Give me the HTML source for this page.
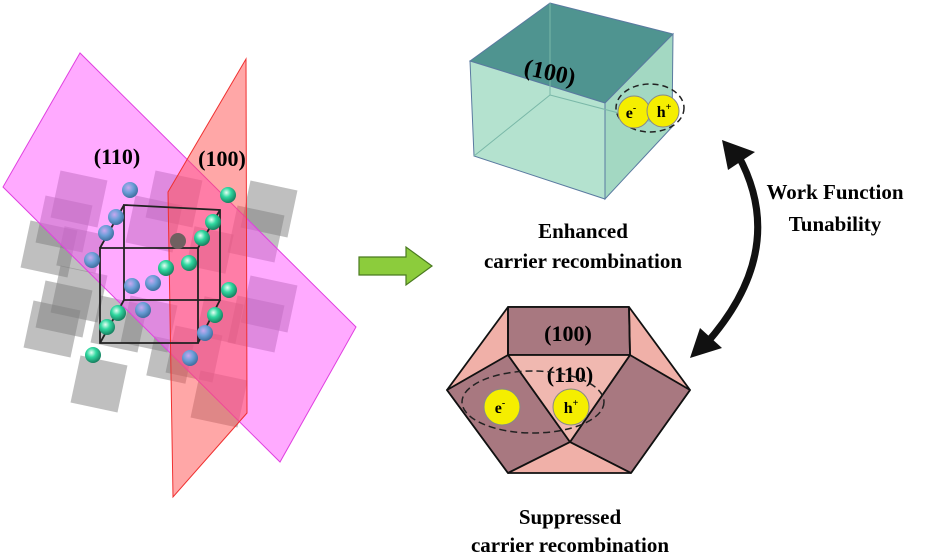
<!DOCTYPE html>
<html><head><meta charset="utf-8"><style>
body{margin:0;background:#fff}
svg text{font-family:"Liberation Serif",serif;font-weight:bold}
</style></head><body>
<svg width="933" height="554" viewBox="0 0 933 554" xmlns="http://www.w3.org/2000/svg">
<defs>
<radialGradient id="gb" cx="40%" cy="35%" r="65%"><stop offset="0" stop-color="#c9a8f0"/><stop offset="0.5" stop-color="#6b9ed8"/><stop offset="1" stop-color="#3f6f9f"/></radialGradient>
<radialGradient id="gg" cx="40%" cy="35%" r="65%"><stop offset="0" stop-color="#e6fff4"/><stop offset="0.45" stop-color="#30d8a0"/><stop offset="1" stop-color="#178060"/></radialGradient>
</defs>
<!-- gray squares -->
<g fill="#808080" fill-opacity="0.5">
<rect x="55" y="175" width="48" height="48" transform="rotate(12 79 199)"/>
<rect x="40" y="200" width="48" height="48" transform="rotate(12 64 224)"/>
<rect x="25" y="225" width="48" height="48" transform="rotate(12 49 249)"/>
<rect x="55" y="270" width="48" height="48" transform="rotate(12 79 294)"/>
<rect x="40" y="285" width="48" height="48" transform="rotate(12 64 309)"/>
<rect x="28" y="305" width="48" height="48" transform="rotate(12 52 329)"/>
<rect x="75" y="360" width="48" height="48" transform="rotate(12 99 384)"/>
<rect x="150" y="175" width="48" height="48" transform="rotate(12 174 199)"/>
<rect x="130" y="200" width="48" height="48" transform="rotate(12 154 224)"/>
<rect x="125" y="300" width="48" height="48" transform="rotate(12 149 324)"/>
<rect x="170" y="330" width="48" height="48" transform="rotate(12 194 354)"/>
<rect x="245" y="185" width="48" height="48" transform="rotate(12 269 209)"/>
<rect x="232" y="210" width="48" height="48" transform="rotate(12 256 234)"/>
<rect x="245" y="280" width="48" height="48" transform="rotate(12 269 304)"/>
<rect x="232" y="300" width="48" height="48" transform="rotate(12 256 324)"/>
<rect x="195" y="375" width="48" height="48" transform="rotate(12 219 399)"/>
<rect x="95" y="300" width="48" height="48" transform="rotate(12 119 324)"/>
<rect x="190" y="230" width="40" height="40" transform="rotate(12 210 250)"/>
<rect x="60" y="230" width="40" height="40" transform="rotate(12 80 250)"/>
<rect x="200" y="300" width="40" height="40" transform="rotate(12 220 320)"/>
<rect x="150" y="340" width="40" height="40" transform="rotate(12 170 360)"/>
</g>
<!-- planes -->
<polygon points="80,53 3,187 280,462 356,327" fill="#ff55ff" fill-opacity="0.5" stroke="#e040e0" stroke-width="1"/>
<polygon points="246,59 168,192 173,497 247,413" fill="#ff5050" fill-opacity="0.5" stroke="#f03030" stroke-width="1"/>
<!-- cell -->
<g stroke="#222" stroke-width="1.8" fill="none">
<polygon points="100,248 198,248 198,343 100,343"/>
<polygon points="124,205 220,210 220,300 124,300"/>
<line x1="100" y1="248" x2="124" y2="205"/><line x1="198" y1="248" x2="220" y2="210"/>
<line x1="198" y1="343" x2="220" y2="300"/><line x1="100" y1="343" x2="124" y2="300"/>
</g>
<g fill="url(#gb)">
<circle cx="130" cy="190" r="8"/><circle cx="116" cy="217" r="8"/><circle cx="106" cy="233" r="8"/><circle cx="92" cy="260" r="8"/><circle cx="132" cy="286" r="8"/><circle cx="153" cy="283" r="8"/><circle cx="143" cy="310" r="8"/><circle cx="190" cy="358" r="8"/><circle cx="205" cy="333" r="8"/>
</g>
<g fill="url(#gg)">
<circle cx="228" cy="195" r="8"/><circle cx="213" cy="222" r="8"/><circle cx="202" cy="238" r="8"/><circle cx="189" cy="263" r="8"/><circle cx="166" cy="268" r="8"/><circle cx="229" cy="290" r="8"/><circle cx="118" cy="313" r="8"/><circle cx="107" cy="327" r="8"/><circle cx="93" cy="355" r="8"/><circle cx="215" cy="315" r="8"/>
</g>
<circle cx="178" cy="241" r="8" fill="#706060"/>
<text x="117" y="164" font-size="22" text-anchor="middle">(110)</text>
<text x="222" y="166" font-size="22" text-anchor="middle">(100)</text>
<!-- green arrow -->
<polygon points="359,257 406,257 406,247 432,266 406,285 406,275 359,275" fill="#8ccc3c" stroke="#4a7a20" stroke-width="1.2"/>
<!-- cube -->
<polygon points="470,61 550,3 673,34 605,103" fill="#4f9490" stroke="#5a7aa0"/>
<polygon points="470,61 605,103 605,199 474,156" fill="#b4e2cf" stroke="#5a7aa0"/>
<polygon points="605,103 673,34 672,127 605,199" fill="#a3d8c2" stroke="#5a7aa0"/>
<g stroke="#7ab8a8" stroke-width="1" fill="none"><polyline points="550,3 550,95 474,156"/><line x1="550" y1="95" x2="672" y2="127"/></g>
<text x="550" y="80" font-size="24" text-anchor="middle" transform="rotate(12 550 72)">(100)</text>
<ellipse cx="650" cy="108" rx="34" ry="24" fill="none" stroke="#222" stroke-width="1.5" stroke-dasharray="6,4"/>
<circle cx="634" cy="112" r="16" fill="#f5ee00" stroke="#888"/>
<circle cx="663" cy="111" r="16" fill="#f5ee00" stroke="#888"/>
<text x="631" y="118" font-size="16" text-anchor="middle">e<tspan font-size="10" dy="-7">-</tspan></text>
<text x="664" y="117" font-size="16" text-anchor="middle">h<tspan font-size="10" dy="-7">+</tspan></text>
<text x="583" y="238" font-size="21" text-anchor="middle">Enhanced</text>
<text x="583" y="268" font-size="21" text-anchor="middle">carrier recombination</text>
<!-- curved arrow -->
<path d="M738,155 Q790,250 705,345" fill="none" stroke="#111" stroke-width="7"/>
<polygon points="722,140 755,152 728,170" fill="#111"/>
<polygon points="690,358 700,328 722,348" fill="#111"/>
<text x="835" y="199" font-size="21" text-anchor="middle">Work Function</text>
<text x="835" y="231" font-size="21" text-anchor="middle">Tunability</text>
<!-- polyhedron -->
<g stroke="#111" stroke-width="1.8" stroke-linejoin="round">
<polygon points="508,307 629,307 690,390 631,473 508,473 447,390" fill="#f0b0a8"/>
<polygon points="508,307 629,307 630,355 508,355" fill="#a87880"/>
<polygon points="447,390 508,355 570,442 508,473" fill="#a87880"/>
<polygon points="630,355 690,390 631,473 570,442" fill="#a87880"/>
<polygon points="508,355 630,355 570,442" fill="#f0b8b0"/>
<line x1="508" y1="307" x2="508" y2="355"/><line x1="629" y1="307" x2="630" y2="355"/>
<line x1="508" y1="473" x2="570" y2="442"/><line x1="631" y1="473" x2="570" y2="442"/>
</g>
<text x="568" y="341" font-size="22" text-anchor="middle">(100)</text>
<text x="570" y="382" font-size="22" text-anchor="middle">(110)</text>
<ellipse cx="533" cy="402" rx="71" ry="31" fill="none" stroke="#222" stroke-width="1.5" stroke-dasharray="7,4"/>
<circle cx="502" cy="407" r="18" fill="#f5ee00" stroke="#888"/>
<circle cx="571" cy="407" r="18" fill="#f5ee00" stroke="#888"/>
<text x="500" y="413" font-size="16" text-anchor="middle">e<tspan font-size="10" dy="-7">-</tspan></text>
<text x="571" y="413" font-size="16" text-anchor="middle">h<tspan font-size="10" dy="-7">+</tspan></text>
<text x="570" y="524" font-size="21" text-anchor="middle">Suppressed</text>
<text x="570" y="552" font-size="21" text-anchor="middle">carrier recombination</text>
</svg>
</body></html>
